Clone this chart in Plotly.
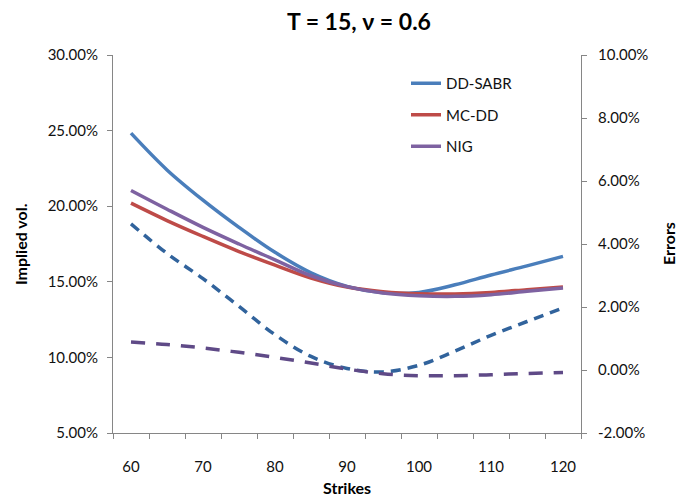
import plotly.graph_objects as go

# Strikes and model smiles (implied vol, %)
strikes = [60, 65, 70, 75, 80, 85, 90, 95, 100, 105, 110, 115, 120]
dd_sabr = [24.83, 22.4, 20.4, 18.6, 16.95, 15.6, 14.7, 14.27, 14.3, 14.8, 15.45, 16.05, 16.68]
mc_dd = [20.2, 19.05, 18.0, 17.0, 16.1, 15.25, 14.65, 14.35, 14.21, 14.2, 14.3, 14.48, 14.66]
nig = [21.04, 19.8, 18.6, 17.5, 16.45, 15.4, 14.68, 14.26, 14.08, 14.04, 14.15, 14.37, 14.59]

# Errors against MC-DD (%), right axis
err_dd_sabr = [4.64, 3.7, 2.9, 2.02, 1.12, 0.43, 0.05, -0.06, 0.15, 0.6, 1.1, 1.54, 1.97]
err_nig = [0.89, 0.81, 0.70, 0.56, 0.40, 0.22, 0.03, -0.12, -0.18, -0.18, -0.15, -0.11, -0.08]

left_ticks = [5, 10, 15, 20, 25, 30]
right_ticks = [-2, 0, 2, 4, 6, 8, 10]
x_ticks = [60, 70, 80, 90, 100, 110, 120]

BLUE = "#4A7EBB"
RED = "#BE4B48"
PURPLE = "#7E62A1"
BLUE_D = "#31639C"
PURPLE_D = "#5F4A87"
AXIS = "#868686"
FONT = "Lato"
LW = 3.5
SMOOTH = 1.0


def pct(v):
    return f"{v:.2f}%"


fig = go.Figure()
fig.add_trace(go.Scatter(x=strikes, y=dd_sabr, mode="lines", name="DD-SABR",
                         line=dict(color=BLUE, width=LW, shape="spline", smoothing=SMOOTH),
                         legendgroup="a"))
fig.add_trace(go.Scatter(x=strikes, y=mc_dd, mode="lines", name="MC-DD",
                         line=dict(color=RED, width=LW, shape="spline", smoothing=SMOOTH),
                         legendgroup="b"))
fig.add_trace(go.Scatter(x=strikes, y=nig, mode="lines", name="NIG",
                         line=dict(color=PURPLE, width=LW, shape="spline", smoothing=SMOOTH),
                         legendgroup="c"))
fig.add_trace(go.Scatter(x=strikes, y=err_dd_sabr, mode="lines", yaxis="y2", showlegend=False,
                         line=dict(color=BLUE_D, width=LW, dash="10px,7px",
                                   shape="spline", smoothing=SMOOTH)))
fig.add_trace(go.Scatter(x=strikes, y=err_nig, mode="lines", yaxis="y2", showlegend=False,
                         line=dict(color=PURPLE_D, width=LW, dash="14px,11px",
                                   shape="spline", smoothing=SMOOTH)))

L, R, T, B = 113, 581, 55, 433
W, H = 680, 500


def px(x):
    return (x - L) / (R - L)


def py(y):
    return (B - y) / (B - T)


fig.update_layout(
    width=W, height=H,
    margin=dict(l=L, r=W - R, t=T, b=H - B),
    paper_bgcolor="white", plot_bgcolor="white",
    font=dict(family=FONT, size=15, color="#111111"),
    showlegend=True,
    legend=dict(x=px(406), y=py(67), xanchor="left", yanchor="top",
                bgcolor="rgba(0,0,0,0)", tracegroupgap=9,
                font=dict(family=FONT, size=15, color="#111111")),
    xaxis=dict(range=[57.5, 122.5], tickvals=x_ticks, ticks="",
               showline=True, linecolor=AXIS, linewidth=1, showgrid=False, zeroline=False,
               ticklabelstandoff=20,
               minor=dict(ticks="outside", ticklen=5, tickcolor=AXIS, tickwidth=1,
                          tick0=57.5, dtick=5, showgrid=False)),
    yaxis=dict(range=[5, 30], tickvals=left_ticks, ticktext=[pct(v) for v in left_ticks],
               ticks="outside", ticklen=5, tickcolor=AXIS, showline=True, linecolor=AXIS,
               linewidth=1, showgrid=False, zeroline=False, ticklabelstandoff=6),
    yaxis2=dict(range=[-2, 10], tickvals=right_ticks, ticktext=[pct(v) for v in right_ticks],
                overlaying="y", side="right", anchor="x",
                ticks="outside", ticklen=5, tickcolor=AXIS, showline=True, linecolor=AXIS,
                linewidth=1, showgrid=False, zeroline=False, ticklabelstandoff=8),
    annotations=[
        dict(text="<b>T = 15, ν = 0.6</b>", x=px(359), y=py(21), xref="paper", yref="paper",
             showarrow=False, font=dict(family=FONT, size=23, color="#000000"),
             xanchor="center", yanchor="middle"),
        dict(text="<b>Strikes</b>", x=px(347), y=py(487), xref="paper", yref="paper",
             showarrow=False, font=dict(family=FONT, size=16, color="#000000"),
             xanchor="center", yanchor="middle"),
        dict(text="<b>Implied vol.</b>", x=px(20), y=py(244), xref="paper", yref="paper",
             showarrow=False, textangle=-90, font=dict(family=FONT, size=16, color="#000000"),
             xanchor="center", yanchor="middle"),
        dict(text="<b>Errors</b>", x=px(668), y=py(244), xref="paper", yref="paper",
             showarrow=False, textangle=-90, font=dict(family=FONT, size=16, color="#000000"),
             xanchor="center", yanchor="middle"),
    ],
)

fig.write_html("out.html")
